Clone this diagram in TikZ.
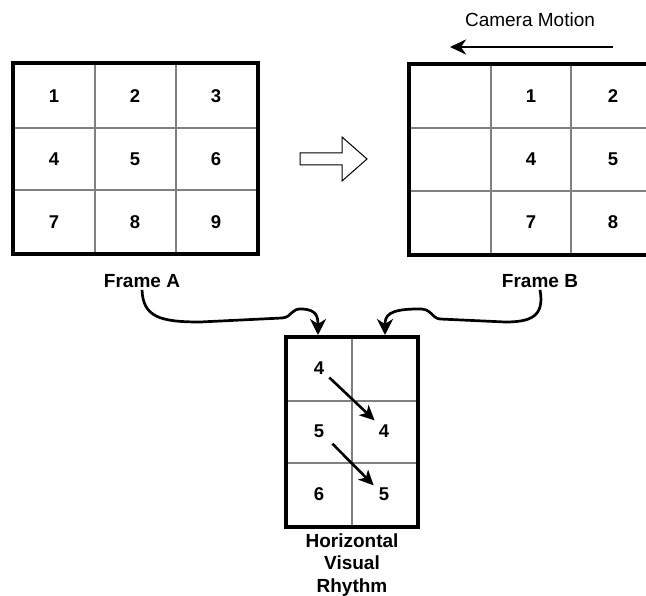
\documentclass[tikz,border=0pt]{standalone}
\usepackage{fontspec}
\setmainfont{Liberation Sans}
\usetikzlibrary{arrows.meta}
\tikzset{
  frame/.style={draw=black, line width=3.2pt, rectangle, inner sep=0pt},
  gridline/.style={draw=black!50, line width=1.6pt},
  num/.style={font=\fontsize{18.5}{20}\selectfont\bfseries, inner sep=2pt},
  lbl/.style={font=\fontsize{19}{22.5}\selectfont\bfseries, align=center, inner sep=2pt},
  conn/.style={line width=2.7pt, -{Stealth[length=16pt,width=16pt,inset=5pt]}},
  inarrow/.style={line width=2.6pt, -{Stealth[length=15pt,width=14pt,inset=4pt]}},
}
\begin{document}
\begin{tikzpicture}[x=1pt,y=-1pt]
\useasboundingbox (0,0) rectangle (646,596);
\clip (0,0) rectangle (646,596);
% Frame A
\draw[gridline] (95,63) -- (95,254) (176,63) -- (176,254) (13,128) -- (258,128) (13,190) -- (258,190);
\node[frame, minimum width=245pt, minimum height=191pt] (fa) at (135.5,158.5) {};
\foreach \n/\x/\y in {1/54/96,2/135/96,3/216/96,4/54/159,5/135/159,6/216/159,7/54/222,8/135/222,9/216/222}
  \node[num] (a\n) at (\x,\y) {\n};
\node[lbl] (la) at (142,281) {Frame A};
% Frame B
\draw[gridline] (491,64) -- (491,255) (571,64) -- (571,255) (409,128) -- (660,128) (409,191) -- (660,191);
\node[frame, minimum width=254pt, minimum height=191pt] (fb) at (536,159.5) {};
\foreach \n/\x/\y in {1/531/96,2/613/96,4/531/159,5/613/159,7/531/222,8/613/222}
  \node[num] (b\n) at (\x,\y) {\n};
\node[lbl] (lb) at (540,281) {Frame B};
% Camera motion
\node[font=\fontsize{19}{22}\selectfont, inner sep=2pt] (cm) at (530,20) {Camera Motion};
\coordinate (cms) at (613,47);
\coordinate (cme) at (450,47);
\draw[line width=2.8pt, -{Stealth[length=16pt,width=15pt,inset=5pt]}] (cms) -- (cme);
% hollow arrow
\draw[line width=1pt, fill=white] (300,153) -- (342,153) -- (342,137) -- (367,159) -- (342,181) -- (342,165) -- (300,165) -- cycle;
% Visual rhythm
\draw[gridline] (352,337) -- (352,527) (286,401) -- (418,401) (286,463) -- (418,463);
\node[frame, minimum width=132pt, minimum height=190pt] (vr) at (352,432) {};
\node[num] (v4a) at (319,368) {4};
\node[num] (v4b) at (384,431) {4};
\node[num] (v5a) at (319,431) {5};
\node[num] (v6) at (319,494) {6};
\node[num] (v5b) at (384,494) {5};
\node[lbl] (lv) at (352,565) {Horizontal\\Visual\\Rhythm};
\draw[inarrow] ([shift={(3pt,-1pt)}]v4a.south east) -- ([shift={(-2pt,2pt)}]v4b.north west);
\draw[inarrow] ([shift={(6pt,-4pt)}]v5a.south east) -- ([shift={(-3pt,0pt)}]v5b.north west);
% connectors
\coordinate (ta) at (318,335);
\coordinate (tb) at (385,335);
\draw[conn] (la.south) .. controls (143,317) and (160,322) .. (200,322)
  -- (282,318) .. controls (293,317) and (290,308) .. (303,309)
  .. controls (316,310) and (318,316) .. (ta);
\draw[conn] (lb.south) .. controls (545,317) and (530,322) .. (505,322)
  -- (440,319) .. controls (431,318) and (432,308) .. (418,309)
  .. controls (388,309) and (385,316) .. (tb);
\end{tikzpicture}
\end{document}
